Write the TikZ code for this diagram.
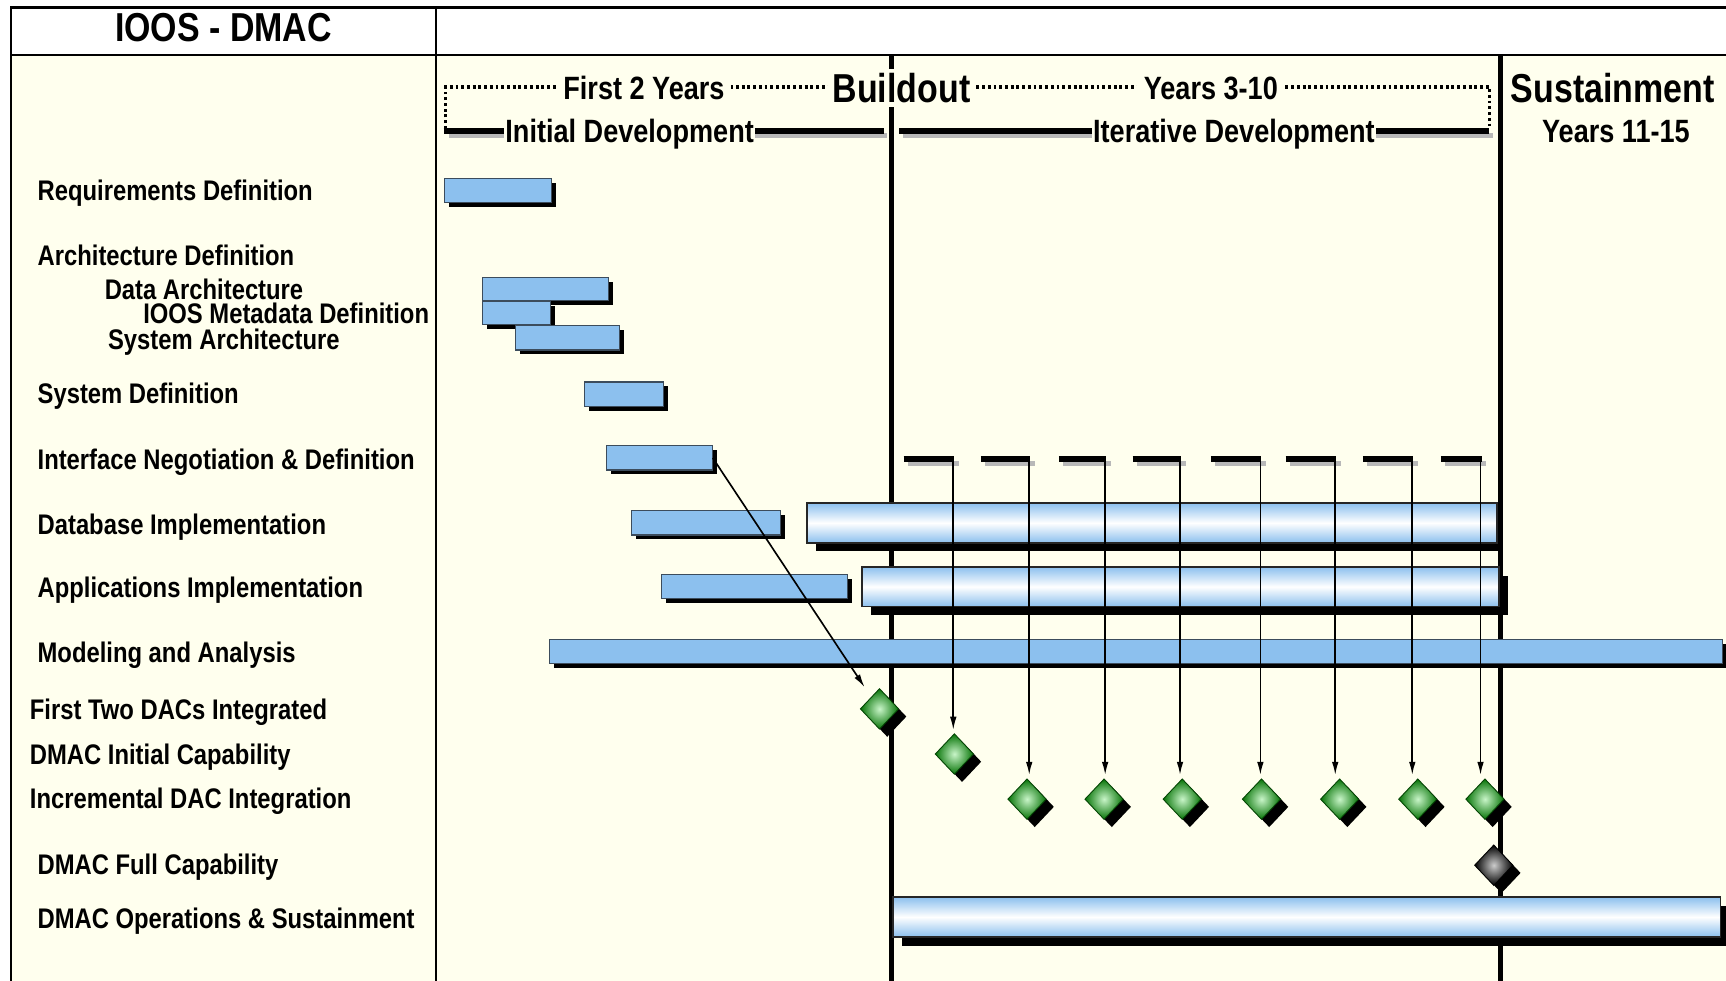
\documentclass[tikz,border=0pt]{standalone}
\usepackage{fontspec}
\setmainfont{Liberation Sans}[FakeStretch=0.84]
\usetikzlibrary{shapes.geometric,shadows,fit,arrows.meta}
\definecolor{cream}{HTML}{FFFFEE}
\definecolor{barblue}{HTML}{8CC0EE}
\definecolor{barline}{HTML}{3C4C5C}
\definecolor{dgreen}{HTML}{067306}
\definecolor{lgreen}{HTML}{C8F5C8}
\definecolor{shgray}{HTML}{B8B8B8}
\begin{document}
\begin{tikzpicture}[x=1pt,y=-1pt,
  lbl/.style={anchor=west, inner sep=0pt, text height=18.4pt, text depth=0pt, font=\fontsize{25.75}{30}\selectfont\bfseries},
  hdr/.style={inner xsep=6pt, inner ysep=3pt, fill=cream, text height=21pt, text depth=0pt, font=\fontsize{29.3}{34}\selectfont\bfseries},
  bigt/.style={inner xsep=4pt, inner ysep=4pt, fill=cream, text height=26.3pt, text depth=0pt, font=\fontsize{36.7}{42}\selectfont\bfseries},
  bar/.style={fill=barblue, draw=barline, line width=1pt, inner sep=0pt, drop shadow={shadow xshift=4pt, shadow yshift=-4pt, fill=black, opacity=1}},
  tubebody/.style={top color=barblue, bottom color=barblue, middle color=white, draw=black!85, line width=1.5pt, inner sep=0pt},
  tube/.style={tubebody, drop shadow={shadow xshift=8pt, shadow yshift=-8pt, fill=black, opacity=1}},
  ms/.style={diamond, minimum width=35pt, minimum height=37pt, inner sep=0pt, draw=dgreen!60!black, line width=0.8pt, inner color=lgreen, outer color=dgreen, drop shadow={shadow xshift=7pt, shadow yshift=-7pt, fill=black, opacity=1}},
  msk/.style={ms, draw=black, inner color=white!80!black, outer color=black},
  arr/.style={line width=1.5pt, -{Latex[length=12pt,width=6pt]}, shorten >=3pt},
  thick line/.style={line width=4.8pt},
  shade line/.style={line width=4.8pt, shgray}
]
\useasboundingbox (0,0) rectangle (1568,891);
\fill[white] (0,0) rectangle (1568,891);
\fill[cream] (10,50) rectangle (1568,891);
% frame
\draw[line width=2.5pt] (10,891) -- (10,7) -- (1568,7);
\draw[line width=2pt] (10,50) -- (1568,50);
\draw[line width=1.5pt] (396,7) -- (396,891);
% phase lines
\draw[line width=4pt] (810,50) -- (810,891);
\draw[line width=4pt] (1363,50) -- (1363,891);
% header brackets
\draw[line width=2.8pt, dash pattern=on 2.6pt off 2.6pt] (405,117) -- (405,79) -- (1353,79) -- (1353,117);
\draw[shade line] (408,123) -- (806,123);
\draw[shade line] (820,123) -- (1356,123);
\draw[thick line] (403,119) -- (803,119);
\draw[thick line] (817,119) -- (1353,119);
\node[hdr] (fy) at (585,80) {First 2 Years};
\node[bigt] (bo) at (819,80) {Buildout};
\node[hdr] (y310) at (1100,80) {Years 3-10};
\node[hdr, inner xsep=1.5pt] (idev) at (572,119) {Initial Development};
\node[hdr, inner xsep=1.5pt] (itdev) at (1121,119) {Iterative Development};
\node[bigt, fill=none] (sus) at (1465,80) {Sustainment};
\node[hdr, fill=none] (y1115) at (1468,119) {Years 11-15};
\node[bigt, fill=none] (title) at (203,25) {IOOS - DMAC};
% bars
\node[bar, fit={(404,162) (501,184)}] (b1) {};
\node[bar, fit={(438,252) (553,273)}] (b2) {};
\node[bar, fit={(438,274) (500,295)}] (b3) {};
\node[bar, fit={(468,296) (563,318)}] (b4) {};
\node[bar, fit={(531,347) (603,369)}] (b5) {};
\node[bar, fit={(551,405) (647,427)}] (b6) {};
\node[bar, fit={(574,464) (709,486)}] (b7) {};
\node[bar, fit={(601,522) (770,544)}] (b8) {};
\node[bar, fit={(499,581) (1565,603)}] (b9) {};
\fill[black] (741,465) rectangle (1361,501);
\node[tubebody, fit={(733,457) (1360,493)}] (tA) {};
\node[tube, fit={(783,515) (1362,551)}] (tB) {};
\node[tube, fit={(811,815) (1563,851)}] (tC) {};
% milestones
\node[ms] (m1) at (799,644) {};
\node[ms] (m2) at (867,685) {};
\foreach \x [count=\i from 3] in {933,1003,1074,1146,1217,1288,1349}
  \node[ms] (m\i) at (\x,726) {};
\node[msk] (mf) at (1357,786) {};
% release segments
\foreach \a/\b [count=\i] in {821/867,891/936,962/1005,1029/1073,1100/1146,1168/1214,1238/1284,1309/1346} {
  \draw[shade line, line width=5pt] (\a+4,421) -- (\b+4,421);
  \draw[line width=5pt] (\a,417) -- (\b,417);
  \coordinate (s\i) at (\b-1,417);
}
\foreach \i/\m in {1/2,2/3,3/4,4/5,5/6,6/7,7/8,8/9}
  \draw[arr] (s\i) -- (s\i |- m\m.north);
\draw[arr, shorten >=1pt] (b6.east) -- ([xshift=-13pt]m1.north);
% labels
\node[lbl] (l1) at (34,173) {Requirements Definition};
\node[lbl] (l2) at (34,232) {Architecture Definition};
\node[lbl] (l3) at (95,263) {Data Architecture};
\node[lbl] (l4) at (130,285) {IOOS Metadata Definition};
\node[lbl] (l5) at (98,308) {System Architecture};
\node[lbl] (l6) at (34,357) {System Definition};
\node[lbl] (l7) at (34,417) {Interface Negotiation \& Definition};
\node[lbl] (l8) at (34,476) {Database Implementation};
\node[lbl] (l9) at (34,534) {Applications Implementation};
\node[lbl] (l10) at (34,593) {Modeling and Analysis};
\node[lbl] (l11) at (27,644) {First Two DACs Integrated};
\node[lbl] (l12) at (27,685) {DMAC Initial Capability};
\node[lbl] (l13) at (27,725) {Incremental DAC Integration};
\node[lbl] (l14) at (34,785) {DMAC Full Capability};
\node[lbl] (l15) at (34,834) {DMAC Operations \& Sustainment};
\end{tikzpicture}
\end{document}
